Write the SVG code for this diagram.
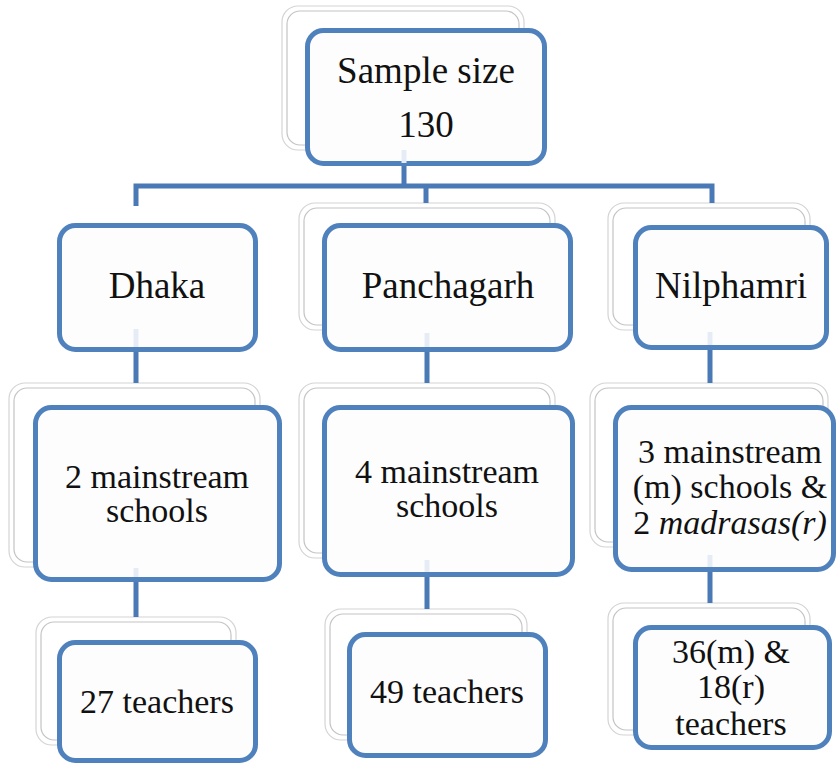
<svg xmlns="http://www.w3.org/2000/svg" width="839" height="765" viewBox="0 0 839 765">
<style>
.box{fill:#fdfdfe;stroke:#4f81bd;stroke-width:5}
.sh1{fill:#ffffff;stroke:#d4d4d4;stroke-width:1.2}
.sh2{fill:none;stroke:#c4c4c4;stroke-width:1.2}
.conn{fill:none;stroke:#4a7ab5;stroke-width:5}
.ghost{stroke:#e6ecf5;stroke-width:5}
text{fill:#111;text-anchor:middle}
.big{font-size:37px}
.mid{font-size:34px}
</style>
<rect width="839" height="765" fill="#ffffff"/>
<g id="shadows">
<rect class="sh1" x="282" y="6" width="242" height="144" rx="16"/><rect class="sh2" x="287" y="11" width="232" height="134" rx="13"/>
<rect class="sh1" x="299" y="203" width="256" height="127" rx="16"/><rect class="sh2" x="304" y="208" width="246" height="117" rx="13"/>
<rect class="sh1" x="608" y="203" width="202" height="127" rx="16"/><rect class="sh2" x="613" y="208" width="192" height="117" rx="13"/>
<rect class="sh1" x="9" y="383" width="251" height="184" rx="16"/><rect class="sh2" x="14" y="388" width="241" height="174" rx="13"/>
<rect class="sh1" x="299" y="383" width="256" height="175" rx="16"/><rect class="sh2" x="304" y="388" width="246" height="165" rx="13"/>
<rect class="sh1" x="590" y="383" width="238" height="164" rx="16"/><rect class="sh2" x="595" y="388" width="228" height="154" rx="13"/>
<rect class="sh1" x="36" y="617" width="200" height="128" rx="16"/><rect class="sh2" x="41" y="622" width="190" height="118" rx="13"/>
<rect class="sh1" x="325" y="609" width="202" height="131" rx="16"/><rect class="sh2" x="330" y="614" width="192" height="121" rx="13"/>
<rect class="sh1" x="608" y="603" width="202" height="132" rx="16"/><rect class="sh2" x="613" y="608" width="192" height="122" rx="13"/>
</g>
<g id="connectors">
<path class="conn" d="M404 166V185M136 206V186H712V203M426 186V203"/>
<path class="conn" d="M136 352V383M427 352V383M710 350V383"/>
<path class="conn" d="M136 582V617M427 577V609M710 572V603"/>
</g>
<g font-family="'Liberation Serif', 'DejaVu Serif', serif">
<g id="n-top">
<rect class="box" x="307.5" y="30.5" width="237" height="133" rx="16"/>
<line class="ghost" x1="404" y1="150" x2="404" y2="163"/>
<text class="big" x="426" y="83">Sample size</text>
<text class="big" x="426" y="137">130</text>
</g>
<g id="n-dhaka">
<rect class="box" x="59.5" y="225.5" width="196" height="124" rx="16"/>
<line class="ghost" x1="136" y1="329" x2="136" y2="347"/>
<text class="big" x="157" y="298">Dhaka</text>
</g>
<g id="n-panchagarh">
<rect class="box" x="324.5" y="225.5" width="246" height="124" rx="16"/>
<line class="ghost" x1="427" y1="333" x2="427" y2="347"/>
<text class="big" x="448" y="298">Panchagarh</text>
</g>
<g id="n-nilphamri">
<rect class="box" x="635.5" y="227.5" width="191" height="120" rx="16"/>
<line class="ghost" x1="710" y1="332" x2="710" y2="345"/>
<text class="big" x="731" y="298">Nilphamri</text>
</g>
<g id="n-dhaka-schools">
<rect class="box" x="35.5" y="407.5" width="244" height="172" rx="16"/>
<line class="ghost" x1="136" y1="568" x2="136" y2="577"/>
<text class="mid" x="157" y="488">2 mainstream</text>
<text class="mid" x="157" y="522">schools</text>
</g>
<g id="n-panchagarh-schools">
<rect class="box" x="324.5" y="407.5" width="248" height="167" rx="16"/>
<line class="ghost" x1="427" y1="560" x2="427" y2="572"/>
<text class="mid" x="447" y="483">4 mainstream</text>
<text class="mid" x="447" y="517">schools</text>
</g>
<g id="n-nilphamri-schools">
<rect class="box" x="615.5" y="407.5" width="218" height="162" rx="16"/>
<line class="ghost" x1="710" y1="555" x2="710" y2="567"/>
<text class="mid" x="730" y="463">3 mainstream</text>
<text class="mid" x="730" y="498">(m) schools &amp;</text>
<text class="mid" x="730" y="534">2 <tspan font-style="italic">madrasas(r)</tspan></text>
</g>
<g id="n-dhaka-teachers">
<rect class="box" x="59.5" y="642.5" width="196" height="118" rx="16"/>
<text class="mid" x="157" y="713">27 teachers</text>
</g>
<g id="n-panchagarh-teachers">
<rect class="box" x="349.5" y="634.5" width="196" height="121" rx="16"/>
<text class="mid" x="447" y="703">49 teachers</text>
</g>
<g id="n-nilphamri-teachers">
<rect class="box" x="635.5" y="627.5" width="194" height="120" rx="16"/>
<text class="mid" x="731" y="663">36(m) &amp;</text>
<text class="mid" x="731" y="698">18(r)</text>
<text class="mid" x="731" y="735">teachers</text>
</g>
</g>
</svg>
